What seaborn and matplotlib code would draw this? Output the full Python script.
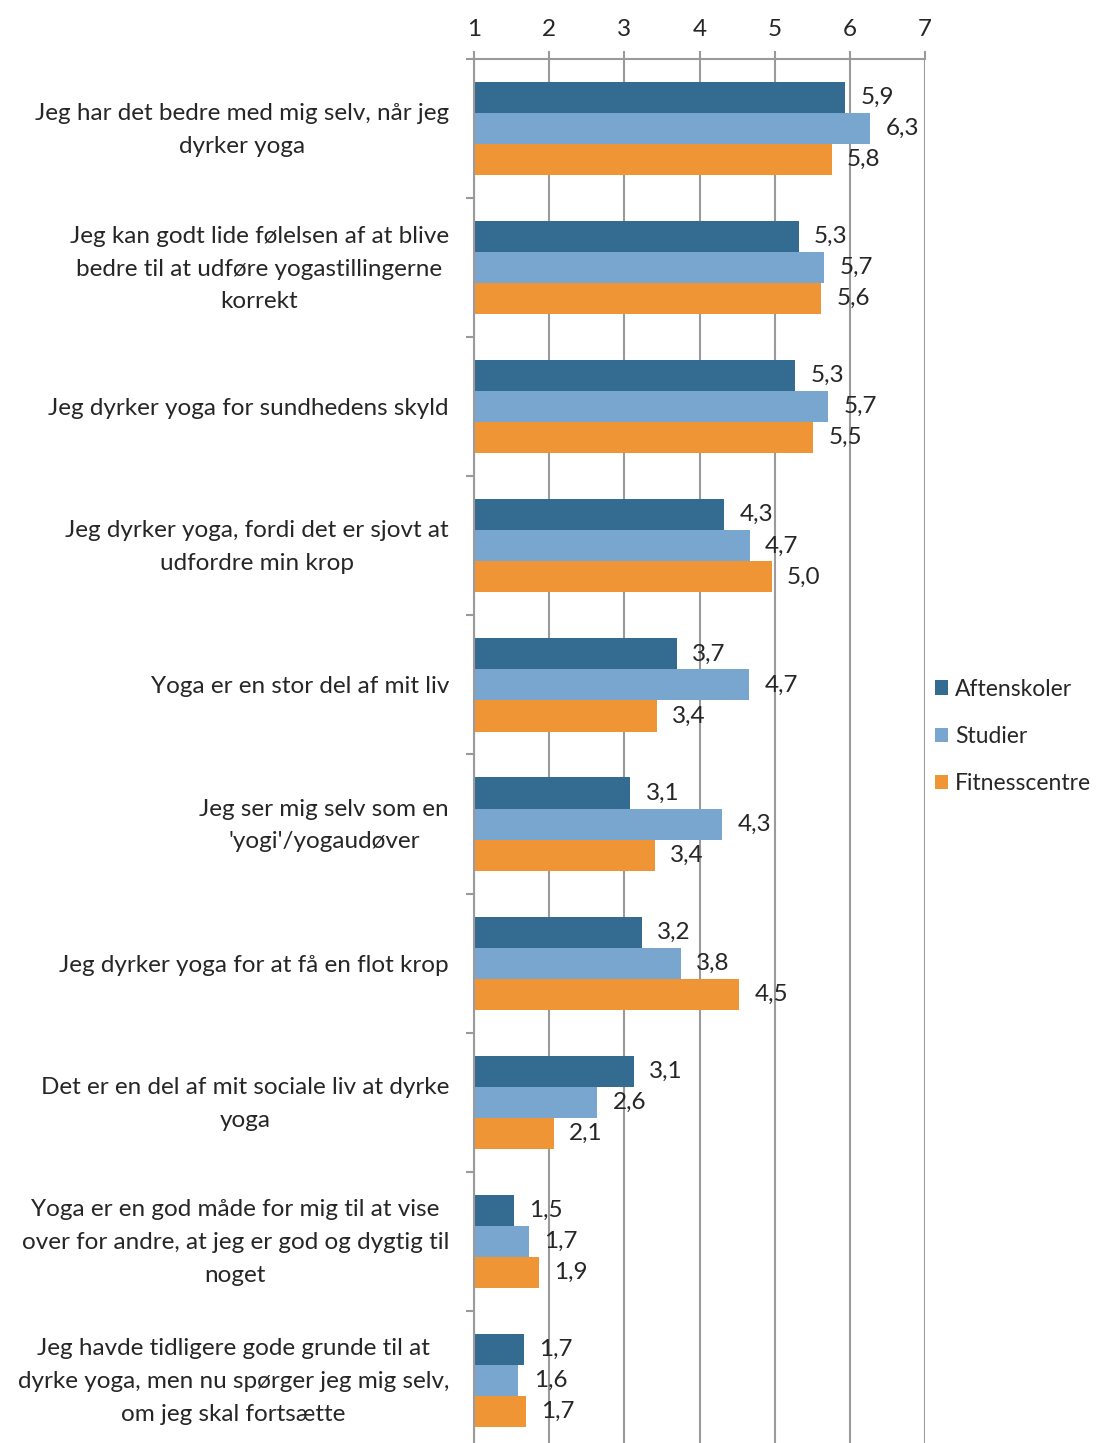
import matplotlib
matplotlib.use('Agg')
import matplotlib.pyplot as plt
import matplotlib.transforms as mtransforms
import seaborn as sns
import pandas as pd

sns.set_style('white')
plt.rcParams['font.family'] = ['Lato', 'DejaVu Sans']

#Udsagn (categories), top to bottom
udsagn = [
    'Jeg har det bedre med mig selv, når jeg\ndyrker yoga',
    'Jeg kan godt lide følelsen af at blive\nbedre til at udføre yogastillingerne\nkorrekt',
    'Jeg dyrker yoga for sundhedens skyld',
    'Jeg dyrker yoga, fordi det er sjovt at\nudfordre min krop',
    'Yoga er en stor del af mit liv',
    "Jeg ser mig selv som en\n'yogi'/yogaudøver",
    'Jeg dyrker yoga for at få en flot krop',
    'Det er en del af mit sociale liv at dyrke\nyoga',
    'Yoga er en god måde for mig til at vise\nover for andre, at jeg er god og dygtig til\nnoget',
    'Jeg havde tidligere gode grunde til at\ndyrke yoga, men nu spørger jeg mig selv,\nom jeg skal fortsætte',
]

#Mean scores
aftenskoler = [5.94, 5.32, 5.27, 4.33, 3.70, 3.08, 3.23, 3.13, 1.53, 1.66]
studier = [6.27, 5.66, 5.71, 4.67, 4.66, 4.30, 3.75, 2.64, 1.73, 1.59]
fitnesscentre = [5.76, 5.62, 5.51, 4.96, 3.43, 3.41, 4.53, 2.06, 1.86, 1.69]

grupper = ['Aftenskoler', 'Studier', 'Fitnesscentre']
farver = ['#346B91', '#78A6CF', '#F09535']
GRID_GRAY = '#9a9a9a'
FS = 17.5

df = pd.DataFrame({'Udsagn': udsagn, 'Aftenskoler': aftenskoler,
                   'Studier': studier, 'Fitnesscentre': fitnesscentre})
df = df.melt(id_vars='Udsagn', var_name='Gruppe', value_name='Score')

fig = plt.figure(figsize=(11.02, 14.43), dpi=100)
ax = fig.add_axes([474 / 1102, -7 / 1443, 451 / 1102, 1391 / 1443])

sns.barplot(data=df, y='Udsagn', x='Score', hue='Gruppe', order=udsagn,
            hue_order=grupper, palette=farver, width=0.67, errorbar=None,
            orient='h', saturation=1, linewidth=0, ax=ax)

#Axis starts at 1, bars are clipped at the left edge
ax.set_xlim(1, 7)
ax.set_xticks(range(1, 8))
ax.xaxis.tick_top()
ax.set_xlabel('')
ax.set_ylabel('')
ax.grid(axis='x', color=GRID_GRAY, linewidth=1.5)
ax.grid(axis='y', visible=False)
ax.set_axisbelow(True)

for side in ['right', 'bottom']:
    ax.spines[side].set_visible(False)
for side in ['top', 'left']:
    ax.spines[side].set_color(GRID_GRAY)
    ax.spines[side].set_linewidth(1.5)

ax.tick_params(axis='x', which='major', top=True, bottom=False, length=6,
               width=1.5, color=GRID_GRAY, pad=8, labelsize=FS)

ax.set_yticks(range(len(udsagn)))
ax.set_yticklabels(udsagn, multialignment='center', fontsize=FS, linespacing=1.7)
ax.set_yticks([i - 0.5 for i in range(len(udsagn) + 1)], minor=True)
ax.tick_params(axis='y', which='major', length=0, pad=18)
ax.tick_params(axis='y', which='minor', left=True, length=6, width=1.5, color=GRID_GRAY)
ax.set_ylim(len(udsagn) - 0.5, -0.5)

#Multi-line labels sit a little low, nudge them up
nudge = mtransforms.ScaledTranslation(0, 6.5 / 100, fig.dpi_scale_trans)
for lbl in ax.get_yticklabels():
    if '\n' in lbl.get_text():
        lbl.set_transform(lbl.get_transform() + nudge)

for cont in ax.containers:
    ax.bar_label(cont, labels=['{:.1f}'.format(v).replace('.', ',') for v in cont.datavalues],
                 padding=11, fontsize=FS)

handles, labels = ax.get_legend_handles_labels()
ax.get_legend().remove()
fig.legend(handles, labels, loc='upper left', bbox_to_anchor=(914 / 1102, 1 - 658 / 1443),
           frameon=False, fontsize=16.5, handlelength=0.58, handleheight=0.58,
           handletextpad=0.32, labelspacing=1.15)

fig.savefig('out.png', dpi=100)
